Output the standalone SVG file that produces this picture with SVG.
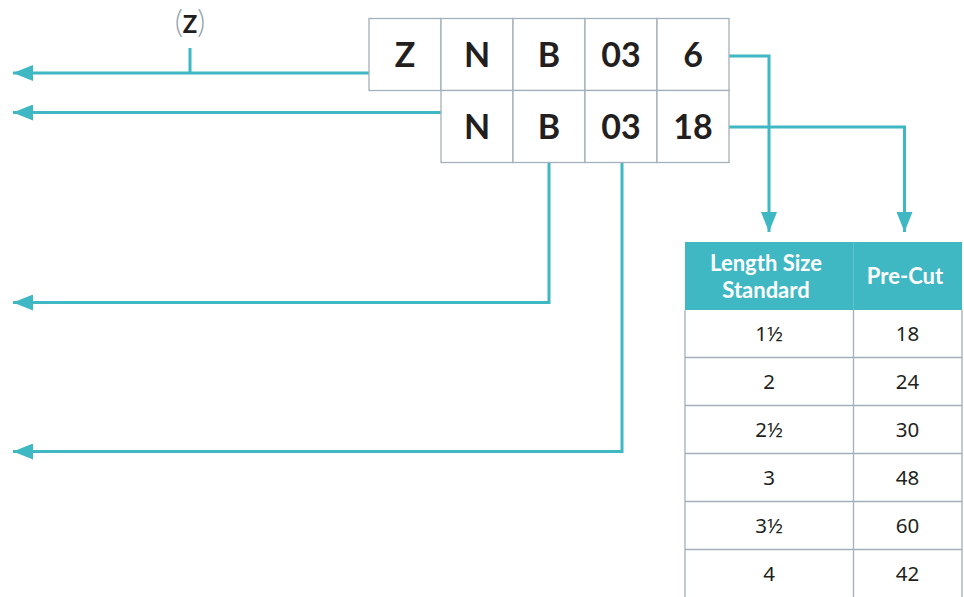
<svg xmlns="http://www.w3.org/2000/svg" width="964" height="597" viewBox="0 0 964 597">
<style>
.cell{fill:#fff;stroke:#a3b0b9;stroke-width:1.3}
.code{font-family:Lato,"Liberation Sans",sans-serif;font-weight:700;font-size:34px;fill:#231f20;text-anchor:middle}
.con{fill:none;stroke:#3fb8c4;stroke-width:3}
.hd{font-family:Lato,"Liberation Sans",sans-serif;font-weight:700;font-size:22px;fill:#fff;text-anchor:middle}
.td{font-family:"Noto Sans","Liberation Sans",sans-serif;font-size:20.5px;fill:#231f20;text-anchor:middle}
.grid{stroke:#a3b0b9;stroke-width:1.3;fill:none}
</style>
<defs>
<marker id="ah" viewBox="0 0 20 16" refX="20" refY="8" markerWidth="20" markerHeight="16" markerUnits="userSpaceOnUse" orient="auto">
<path d="M0,0 L20,8 L0,16 Z" fill="#3fb8c4"/>
</marker>
</defs>
<g id="connectors">
<path class="con" d="M369,73 H13" marker-end="url(#ah)"/>
<path class="con" d="M190,48 V73"/>
<path class="con" d="M441,112.5 H13" marker-end="url(#ah)"/>
<path class="con" d="M549,162 V302.5 H13" marker-end="url(#ah)"/>
<path class="con" d="M622,162 V451.5 H13" marker-end="url(#ah)"/>
<path class="con" d="M729,56 H769 V232" marker-end="url(#ah)"/>
<path class="con" d="M729,127 H904.5 V232" marker-end="url(#ah)"/>
</g>
<g id="z-optional">
<text x="190" y="33" font-family="Lato,'Liberation Sans',sans-serif" text-anchor="middle"><tspan fill="#8f9fab" font-size="31" font-weight="300">(</tspan><tspan fill="#231f20" font-weight="700" font-size="24">Z</tspan><tspan fill="#8f9fab" font-size="31" font-weight="300">)</tspan></text>
</g>
<g id="row1">
<rect class="cell" x="369" y="18.5" width="72" height="72"/>
<rect class="cell" x="441" y="18.5" width="72" height="72"/>
<rect class="cell" x="513" y="18.5" width="72" height="72"/>
<rect class="cell" x="585" y="18.5" width="72" height="72"/>
<rect class="cell" x="657" y="18.5" width="72" height="72"/>
<text class="code" x="405" y="67">Z</text>
<text class="code" x="477" y="67">N</text>
<text class="code" x="549" y="67">B</text>
<text class="code" x="621" y="67">03</text>
<text class="code" x="693" y="67">6</text>
</g>
<g id="row2">
<rect class="cell" x="441" y="90.5" width="72" height="72"/>
<rect class="cell" x="513" y="90.5" width="72" height="72"/>
<rect class="cell" x="585" y="90.5" width="72" height="72"/>
<rect class="cell" x="657" y="90.5" width="72" height="72"/>
<text class="code" x="477" y="139">N</text>
<text class="code" x="549" y="139">B</text>
<text class="code" x="621" y="139">03</text>
<text class="code" x="693" y="139">18</text>
</g>
<g id="table">
<rect x="685" y="242" width="277" height="68" fill="#3fb8c4"/>
<path class="grid" d="M685,310 V597 M853.5,310 V597 M962,310 V597 M685,357.5 H962 M685,405.5 H962 M685,453.5 H962 M685,501.5 H962 M685,549.5 H962"/>
<line x1="853.5" y1="242" x2="853.5" y2="310" stroke="#5cc4ce" stroke-width="1"/>
<text class="hd" x="766" y="271">Length Size</text>
<text class="hd" x="766" y="298">Standard</text>
<text class="hd" x="905" y="284">Pre-Cut</text>
<text class="td" x="769" y="341">1½</text><text class="td" x="907.5" y="341">18</text>
<text class="td" x="769" y="389">2</text><text class="td" x="907.5" y="389">24</text>
<text class="td" x="769" y="437">2½</text><text class="td" x="907.5" y="437">30</text>
<text class="td" x="769" y="485">3</text><text class="td" x="907.5" y="485">48</text>
<text class="td" x="769" y="533">3½</text><text class="td" x="907.5" y="533">60</text>
<text class="td" x="769" y="581">4</text><text class="td" x="907.5" y="581">42</text>
</g>
</svg>
